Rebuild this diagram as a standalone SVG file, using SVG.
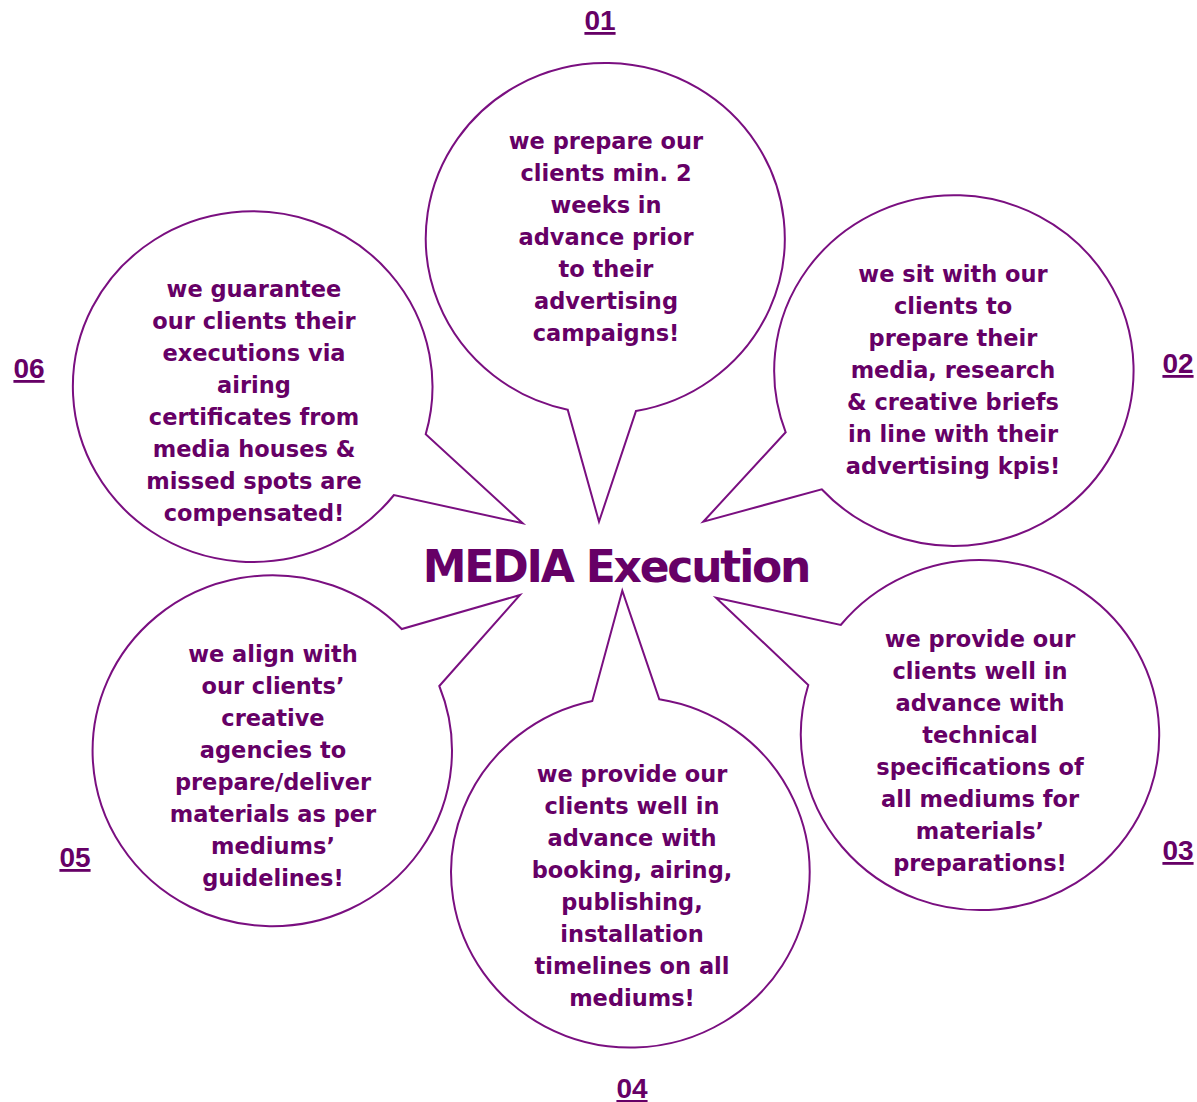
<svg xmlns="http://www.w3.org/2000/svg" width="1197" height="1102" viewBox="0 0 1197 1102">
<style>
.bubble{fill:#ffffff;stroke:#7a0f80;stroke-width:2;stroke-linejoin:miter}
.body{font-family:"DejaVu Sans",sans-serif;font-weight:bold;font-size:22.5px;fill:#660066;text-anchor:middle}
.num{font-family:"Liberation Sans",Arial,sans-serif;font-weight:bold;font-size:28px;fill:#660066;text-anchor:middle;text-decoration:underline}
.title{font-family:"DejaVu Sans",sans-serif;font-weight:bold;font-size:44px;fill:#660066;text-anchor:middle;letter-spacing:-2.2px}
</style>
<rect width="1197" height="1102" fill="#ffffff"/>
<g id="connectors"></g>
<g id="node-01">
<path class="bubble" d="M567.7 409.7 A179.5 175.3 0 1 1 636 411 L599 521.7 Z"/>
<text class="body"><tspan x="606" y="149">we prepare our</tspan><tspan x="606" y="181">clients min. 2</tspan><tspan x="606" y="213">weeks in</tspan><tspan x="606" y="245">advance prior</tspan><tspan x="606" y="277">to their</tspan><tspan x="606" y="309">advertising</tspan><tspan x="606" y="341">campaigns!</tspan></text>
<text class="num" x="600" y="30">01</text>
</g>
<g id="node-02">
<path class="bubble" d="M785.7 432.3 A179.7 175.3 0 1 1 821.7 489.3 L703.3 521.7 Z"/>
<text class="body"><tspan x="953" y="282">we sit with our</tspan><tspan x="953" y="314">clients to</tspan><tspan x="953" y="346">prepare their</tspan><tspan x="953" y="378">media, research</tspan><tspan x="953" y="410">&amp; creative briefs</tspan><tspan x="953" y="442">in line with their</tspan><tspan x="953" y="474">advertising kpis!</tspan></text>
<text class="num" x="1178" y="373">02</text>
</g>
<g id="node-03">
<path class="bubble" d="M840.7 625 A179.2 175 0 1 1 808.3 685 L716 597.7 Z"/>
<text class="body"><tspan x="980" y="647">we provide our</tspan><tspan x="980" y="679">clients well in</tspan><tspan x="980" y="711">advance with</tspan><tspan x="980" y="743">technical</tspan><tspan x="980" y="775">specifications of</tspan><tspan x="980" y="807">all mediums for</tspan><tspan x="980" y="839">materials’</tspan><tspan x="980" y="871">preparations!</tspan></text>
<text class="num" x="1178" y="860">03</text>
</g>
<g id="node-04">
<path class="bubble" d="M659.3 699.3 A179.3 175.3 0 1 1 592.3 701 L622.3 590.7 Z"/>
<text class="body"><tspan x="632" y="782">we provide our</tspan><tspan x="632" y="814">clients well in</tspan><tspan x="632" y="846">advance with</tspan><tspan x="632" y="878">booking, airing,</tspan><tspan x="632" y="910">publishing,</tspan><tspan x="632" y="942">installation</tspan><tspan x="632" y="974">timelines on all</tspan><tspan x="632" y="1006">mediums!</tspan></text>
<text class="num" x="632" y="1098">04</text>
</g>
<g id="node-05">
<path class="bubble" d="M439.3 686 A179.7 175.5 0 1 1 401.7 629 L520 595 Z"/>
<text class="body"><tspan x="273" y="662">we align with</tspan><tspan x="273" y="694">our clients’</tspan><tspan x="273" y="726">creative</tspan><tspan x="273" y="758">agencies to</tspan><tspan x="273" y="790">prepare/deliver</tspan><tspan x="273" y="822">materials as per</tspan><tspan x="273" y="854">mediums’</tspan><tspan x="273" y="886">guidelines!</tspan></text>
<text class="num" x="75" y="867">05</text>
</g>
<g id="node-06">
<path class="bubble" d="M394 495 A179.8 175.3 0 1 1 425.7 434.3 L522.7 523.3 Z"/>
<text class="body"><tspan x="254" y="297">we guarantee</tspan><tspan x="254" y="329">our clients their</tspan><tspan x="254" y="361">executions via</tspan><tspan x="254" y="393">airing</tspan><tspan x="254" y="425">certificates from</tspan><tspan x="254" y="457">media houses &amp;</tspan><tspan x="254" y="489">missed spots are</tspan><tspan x="254" y="521">compensated!</tspan></text>
<text class="num" x="29" y="378">06</text>
</g>
<g id="node-center">
<text class="title" x="616" y="582">MEDIA Execution</text>
</g>
</svg>
